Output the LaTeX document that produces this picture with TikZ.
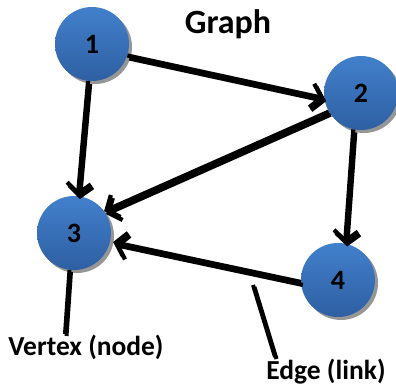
\documentclass[tikz,border=0pt]{standalone}
\usepackage{fontspec}
\setmainfont{Carlito}
\usetikzlibrary{arrows.meta,shadows}
\definecolor{balltop}{RGB}{66,128,204}
\definecolor{ballbot}{RGB}{46,95,162}
\definecolor{shade}{RGB}{150,150,150}
\tikzset{
  vertex/.style={circle, minimum size=74pt, inner sep=0pt,
    top color=balltop, bottom color=ballbot, draw=none,
    general shadow={fill=shade, shadow xshift=3pt, shadow yshift=-3pt},
    font=\fontsize{28}{32}\selectfont\bfseries},
  link/.style={line width=4.2pt, black,
    -{Straight Barb[length=10pt, width=24pt, line width=4.2pt]}},
  linkshadow/.style={line width=4.2pt, shade,
    -{Straight Barb[length=10pt, width=24pt, line width=4.2pt]},
    transform canvas={shift={(2pt,-3pt)}}},
  pointer/.style={line width=4pt, black},
  pointershadow/.style={line width=4pt, shade,
    transform canvas={shift={(1.5pt,-2pt)}}},
  caption/.style={font=\fontsize{27.5}{32}\selectfont\bfseries, inner sep=0pt, anchor=base},
}
\begin{document}
\begin{tikzpicture}[x=1pt, y=-1pt]
\useasboundingbox (0,0) rectangle (396,388);

% vertices
\node[vertex] (n1) at (92,44) {1};
\node[vertex] (n2) at (361,93) {2};
\node[vertex] (n3) at (74,233) {3};
\node[vertex] (n4) at (338,280) {4};

% captions
\node[caption, font=\fontsize{34}{40}\selectfont\bfseries] (title) at (228,33) {Graph};
\node[caption] (vlab) at (86,355) {Vertex (node)};
\node[caption] (elab) at (326,379) {Edge (link)};
\coordinate (etip) at (253,285);
\coordinate (vend) at (65,334);
\coordinate (eend) at (275,357);

% edge shadows
\draw[linkshadow] (n1.-18) -- (n2.188);
\draw[linkshadow] (n1.-96) -- (n3.84);
\draw[linkshadow] (n2.210) -- (n3.36);
\draw[linkshadow] (n2.258) -- (n4.79);
\draw[linkshadow] (n4.183) -- ([shift={(3pt,0)}]n3.-14);
\draw[pointershadow] (n3.-97) -- (vend);
\draw[pointershadow] (etip) -- (eend);

% directed edges
\draw[link] (n1.-18) -- (n2.188);
\draw[link] (n1.-96) -- (n3.84);
\draw[link] (n2.210) -- (n3.36);
\draw[link] (n2.258) -- (n4.79);
\draw[link] (n4.183) -- ([shift={(3pt,0)}]n3.-14);

% pointers to the captions
\draw[pointer] (n3.-97) -- (vend);
\draw[pointer] (etip) -- (eend);
\end{tikzpicture}
\end{document}
